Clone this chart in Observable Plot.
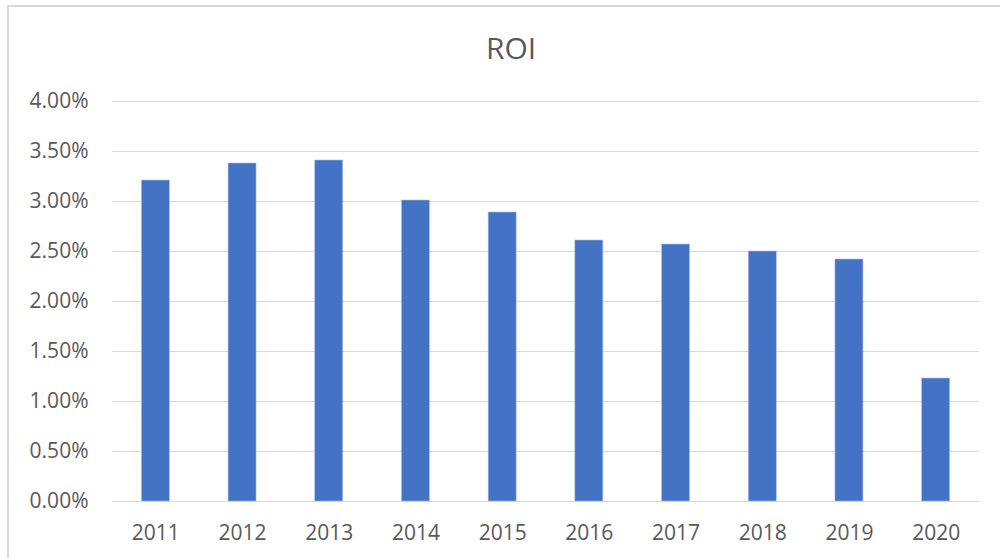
<!DOCTYPE html>
<html>
<head>
<meta charset="utf-8">
<script src="https://cdn.jsdelivr.net/npm/d3@7"></script>
<script src="https://cdn.jsdelivr.net/npm/@observablehq/plot@0.6"></script>
<style>
  html, body { margin: 0; padding: 0; background: #fff; }
  body { width: 1000px; height: 558px; overflow: hidden; position: relative; font-family: "Open Sans", sans-serif; }
  #frame { position: absolute; left: 7px; top: 5px; width: 1000px; height: 600px;
           border-left: 2px solid #d9d9d9; border-top: 2px solid #d9d9d9; pointer-events: none; }
  #title { position: relative; width: 978px; padding-left: 22px; height: 37px; padding-top: 33px;
           text-align: center; font-size: 30px; line-height: 30px; color: #595959; }
  #chart svg { display: block; }
</style>
</head>
<body>
<div id="frame"></div>
<div id="title">ROI</div>
<div id="chart"></div>
<script>
const years = ["2011", "2012", "2013", "2014", "2015", "2016", "2017", "2018", "2019", "2020"];
const roi = [0.0321, 0.0338, 0.0341, 0.0301, 0.0289, 0.0261, 0.0257, 0.0250, 0.0242, 0.0123];
const yTicks = [0, 0.005, 0.01, 0.015, 0.02, 0.025, 0.03, 0.035, 0.04];

const data = years.map((year, i) => ({ year, roi: roi[i] }));

const chart = Plot.plot({
  width: 1000,
  height: 488,
  marginLeft: 112,
  marginRight: 21,
  marginTop: 31,
  marginBottom: 57,
  style: { fontFamily: "Open Sans, sans-serif", fontSize: "21px", color: "#595959", background: "transparent" },
  x: { type: "band", domain: years, paddingInner: 0.677, paddingOuter: 0.3385, round: false, label: null },
  y: { domain: [0, 0.04], label: null },
  marks: [
    Plot.gridY(yTicks, { stroke: "#d9d9d9", strokeOpacity: 1, strokeWidth: 1.2 }),
    Plot.barY(data, { x: "year", y: "roi", fill: "#4472C4", stroke: "#a9bfe6", strokeWidth: 0.6 }),
    Plot.axisY(yTicks, { tickSize: 0, tickPadding: 24, tickFormat: d3.format(".2%"), label: null, fill: "#595959" }),
    Plot.axisX({ tickSize: 0, tickPadding: 24, label: null, fill: "#595959" })
  ]
});
document.getElementById("chart").appendChild(chart);
</script>
</body>
</html>
